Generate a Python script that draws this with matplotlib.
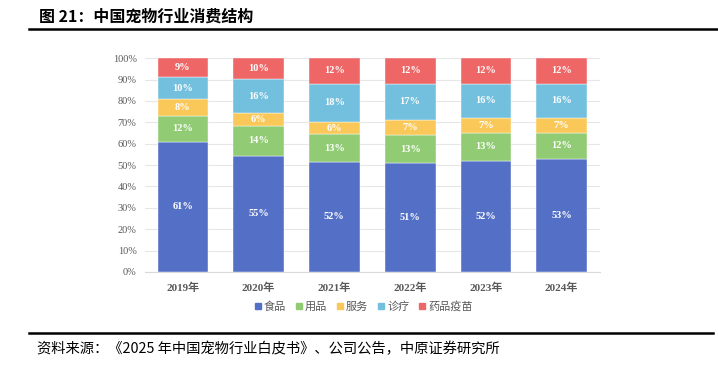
import numpy as np
import matplotlib
matplotlib.use("Agg")
import matplotlib.pyplot as plt
from matplotlib.lines import Line2D

plt.rcParams['font.family'] = ['Liberation Serif', 'Noto Sans CJK SC', 'DejaVu Sans']

years = ['2019年', '2020年', '2021年', '2022年', '2023年', '2024年']
series = ['食品', '用品', '服务', '诊疗', '药品疫苗']
food = [61, 55, 52, 51, 52, 53]
supplies = [12, 14, 13, 13, 13, 12]
service = [8, 6, 6, 7, 7, 7]
medical = [10, 16, 18, 17, 16, 16]
drugs = [9, 10, 12, 12, 12, 12]
colors = ['#5470C6', '#91CC75', '#FAC858', '#73C0DE', '#EE6666']

values = np.array([food, supplies, service, medical, drugs], dtype=float)
shares = values / values.sum(axis=0)  # bars fill to 100%

fig = plt.figure(figsize=(7.18, 3.68), dpi=100)
ax = fig.add_axes([0.202, 0.261, 0.633, 0.581])

x = np.arange(len(years))
bottom = np.zeros(len(years))
for i, name in enumerate(series):
    ax.bar(x, shares[i], 0.67, bottom=bottom, color=colors[i], zorder=3,
           edgecolor='white', linewidth=0.3)
    for j in range(len(years)):
        ax.text(x[j], bottom[j] + shares[i][j] / 2, f'{int(values[i][j])}%',
                ha='center', va='center', color='white', fontsize=7.5,
                fontweight='bold', family='Liberation Serif', zorder=4)
    bottom += shares[i]

ax.set_xlim(-0.5, 5.5)
ax.set_ylim(0, 1.0)
ax.set_yticks(np.arange(0, 1.01, 0.1))
ax.set_yticklabels([f'{int(round(v * 100))}%' for v in np.arange(0, 1.01, 0.1)],
                   fontsize=7.5, color='#595959')
ax.set_xticks(x)
ax.set_xticklabels(years, fontsize=8, fontweight='bold', color='#595959')
ax.tick_params(axis='both', length=0, pad=6)
ax.tick_params(axis='x', pad=8)
ax.grid(axis='y', color='#E6E6E6', linewidth=0.8, zorder=0)
for s in ['top', 'right', 'left']:
    ax.spines[s].set_visible(False)
ax.spines['bottom'].set_color('#D9D9D9')

handles = [Line2D([], [], marker='s', linestyle='', color=c, markersize=4.5) for c in colors]
fig.legend(handles, series, loc='center', bbox_to_anchor=(0.503, 0.168), ncol=5,
           frameon=False, handletextpad=-0.2, columnspacing=0.4, handlelength=1.5,
           prop={'family': ['Noto Sans CJK SC'], 'size': 8}, labelcolor='#595959')

# header and footer
fig.text(0.054, 0.955, '图 21：中国宠物行业消费结构', fontsize=11.5, fontweight='bold',
         family=['Noto Sans CJK SC', 'DejaVu Sans'], va='center', ha='left')
fig.add_artist(Line2D([0.041, 1.0], [0.921, 0.921], color='black', linewidth=1.8))
fig.add_artist(Line2D([0.041, 0.993], [0.095, 0.095], color='black', linewidth=1.8))
fig.text(0.052, 0.052, '资料来源：《2025 年中国宠物行业白皮书》、公司公告，中原证券研究所',
         fontsize=10.3, family=['Noto Sans CJK SC', 'DejaVu Sans'], va='center', ha='left')

fig.savefig('out.png', dpi=100)
